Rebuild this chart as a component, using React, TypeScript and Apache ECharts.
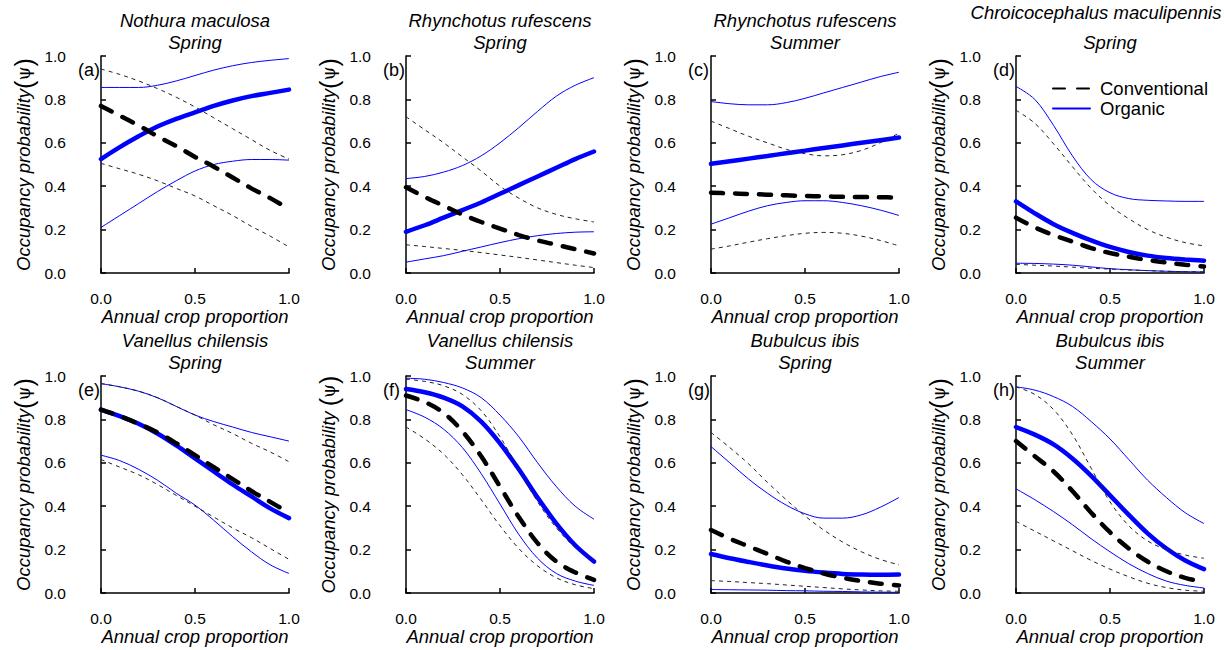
import React, { useEffect, useRef } from "react";
import * as echarts from "echarts";

// x grid (annual crop proportion)
const cropProportion = [0, 0.1, 0.2, 0.3, 0.4, 0.5, 0.6, 0.7, 0.8, 0.9, 1.0];

// (a) Nothura maculosa – Spring
const aConvMean = [0.77, 0.725, 0.68, 0.63, 0.585, 0.535, 0.49, 0.44, 0.39, 0.345, 0.295];
const aConvHi = [0.94, 0.915, 0.885, 0.85, 0.81, 0.765, 0.715, 0.665, 0.615, 0.565, 0.525];
const aConvLo = [0.505, 0.48, 0.455, 0.425, 0.39, 0.355, 0.31, 0.265, 0.215, 0.17, 0.12];
const aOrgMean = [0.525, 0.58, 0.63, 0.675, 0.71, 0.74, 0.77, 0.795, 0.815, 0.83, 0.845];
const aOrgHi = [0.855, 0.855, 0.855, 0.865, 0.885, 0.91, 0.935, 0.955, 0.97, 0.98, 0.988];
const aOrgLo = [0.21, 0.265, 0.32, 0.375, 0.425, 0.47, 0.5, 0.515, 0.523, 0.523, 0.52];

// (b) Rhynchotus rufescens – Spring
const bConvMean = [0.395, 0.35, 0.31, 0.27, 0.235, 0.205, 0.175, 0.15, 0.13, 0.11, 0.09];
const bConvHi = [0.72, 0.66, 0.6, 0.535, 0.47, 0.4, 0.345, 0.3, 0.27, 0.25, 0.235];
const bConvLo = [0.13, 0.122, 0.113, 0.104, 0.094, 0.083, 0.072, 0.06, 0.048, 0.036, 0.025];
const bOrgMean = [0.19, 0.22, 0.255, 0.29, 0.325, 0.365, 0.405, 0.445, 0.485, 0.525, 0.56];
const bOrgHi = [0.435, 0.445, 0.465, 0.495, 0.54, 0.6, 0.67, 0.745, 0.815, 0.865, 0.9];
const bOrgLo = [0.05, 0.065, 0.08, 0.1, 0.12, 0.14, 0.158, 0.172, 0.182, 0.188, 0.19];

// (c) Rhynchotus rufescens – Summer
const cConvMean = [0.37, 0.367, 0.364, 0.361, 0.358, 0.355, 0.353, 0.351, 0.35, 0.349, 0.348];
const cConvHi = [0.7, 0.665, 0.63, 0.6, 0.57, 0.55, 0.54, 0.545, 0.565, 0.6, 0.645];
const cConvLo = [0.11, 0.125, 0.142, 0.158, 0.172, 0.183, 0.187, 0.183, 0.17, 0.15, 0.125];
const cOrgMean = [0.503, 0.515, 0.527, 0.539, 0.552, 0.564, 0.576, 0.588, 0.6, 0.612, 0.624];
const cOrgHi = [0.79, 0.78, 0.775, 0.775, 0.785, 0.805, 0.83, 0.855, 0.88, 0.905, 0.925];
const cOrgLo = [0.225, 0.255, 0.285, 0.31, 0.325, 0.333, 0.333, 0.325, 0.31, 0.29, 0.265];

// (d) Chroicocephalus maculipennis – Spring
const dConvMean = [0.255, 0.21, 0.175, 0.145, 0.115, 0.092, 0.075, 0.06, 0.048, 0.038, 0.03];
const dConvHi = [0.75, 0.69, 0.595, 0.49, 0.39, 0.31, 0.25, 0.2, 0.165, 0.14, 0.125];
const dConvLo = [0.04, 0.036, 0.032, 0.027, 0.022, 0.018, 0.014, 0.011, 0.008, 0.006, 0.005];
const dOrgMean = [0.33, 0.275, 0.225, 0.185, 0.15, 0.12, 0.097, 0.08, 0.069, 0.062, 0.057];
const dOrgHi = [0.86, 0.8, 0.68, 0.54, 0.43, 0.37, 0.343, 0.335, 0.332, 0.33, 0.33];
const dOrgLo = [0.045, 0.044, 0.041, 0.036, 0.028, 0.02, 0.015, 0.011, 0.008, 0.006, 0.005];

// (e) Vanellus chilensis – Spring
const eConvMean = [0.845, 0.815, 0.78, 0.74, 0.69, 0.635, 0.58, 0.525, 0.47, 0.42, 0.37];
const eConvHi = [0.965, 0.95, 0.93, 0.9, 0.86, 0.82, 0.775, 0.735, 0.69, 0.65, 0.605];
const eConvLo = [0.615, 0.58, 0.545, 0.5, 0.45, 0.4, 0.35, 0.3, 0.255, 0.205, 0.155];
const eOrgMean = [0.845, 0.815, 0.78, 0.735, 0.68, 0.62, 0.56, 0.5, 0.445, 0.39, 0.345];
const eOrgHi = [0.965, 0.95, 0.93, 0.9, 0.86, 0.82, 0.79, 0.765, 0.74, 0.72, 0.7];
const eOrgLo = [0.635, 0.61, 0.57, 0.52, 0.46, 0.405, 0.335, 0.26, 0.19, 0.13, 0.09];

// (f) Vanellus chilensis – Summer
const fConvMean = [0.91, 0.88, 0.83, 0.745, 0.63, 0.49, 0.35, 0.23, 0.145, 0.095, 0.06];
const fConvHi = [0.985, 0.975, 0.955, 0.915, 0.84, 0.72, 0.57, 0.42, 0.3, 0.21, 0.15];
const fConvLo = [0.765, 0.71, 0.64, 0.545, 0.43, 0.31, 0.205, 0.125, 0.07, 0.038, 0.02];
const fOrgMean = [0.94, 0.925, 0.9, 0.86, 0.79, 0.69, 0.57, 0.44, 0.32, 0.22, 0.145];
const fOrgHi = [0.99, 0.985, 0.97, 0.945, 0.9, 0.82, 0.72, 0.6, 0.49, 0.4, 0.34];
const fOrgLo = [0.845, 0.81, 0.755, 0.67, 0.55, 0.41, 0.27, 0.16, 0.09, 0.055, 0.035];

// (g) Bubulcus ibis – Spring
const gConvMean = [0.29, 0.25, 0.215, 0.18, 0.145, 0.115, 0.09, 0.07, 0.055, 0.043, 0.035];
const gConvHi = [0.74, 0.67, 0.595, 0.51, 0.43, 0.355, 0.29, 0.235, 0.19, 0.155, 0.13];
const gConvLo = [0.057, 0.053, 0.048, 0.043, 0.037, 0.031, 0.025, 0.019, 0.014, 0.01, 0.008];
const gOrgMean = [0.18, 0.16, 0.143, 0.127, 0.113, 0.102, 0.094, 0.088, 0.085, 0.084, 0.085];
const gOrgHi = [0.675, 0.6, 0.525, 0.46, 0.405, 0.365, 0.345, 0.345, 0.36, 0.395, 0.44];
const gOrgLo = [0.016, 0.015, 0.014, 0.013, 0.011, 0.01, 0.008, 0.007, 0.005, 0.004, 0.003];

// (h) Bubulcus ibis – Summer
const hConvMean = [0.7, 0.63, 0.56, 0.47, 0.37, 0.28, 0.205, 0.145, 0.1, 0.07, 0.05];
const hConvHi = [0.95, 0.915, 0.845, 0.73, 0.575, 0.42, 0.31, 0.24, 0.2, 0.175, 0.16];
const hConvLo = [0.33, 0.285, 0.24, 0.195, 0.15, 0.11, 0.075, 0.045, 0.025, 0.013, 0.008];
const hOrgMean = [0.765, 0.73, 0.685, 0.62, 0.54, 0.45, 0.36, 0.275, 0.205, 0.15, 0.11];
const hOrgHi = [0.95, 0.935, 0.905, 0.86, 0.79, 0.71, 0.615, 0.52, 0.44, 0.37, 0.32];
const hOrgLo = [0.48, 0.43, 0.375, 0.315, 0.25, 0.19, 0.135, 0.09, 0.055, 0.035, 0.023];

const panelLabels = ["(a)", "(b)", "(c)", "(d)", "(e)", "(f)", "(g)", "(h)"];
const speciesNames = [
  "Nothura maculosa",
  "Rhynchotus rufescens",
  "Rhynchotus rufescens",
  "Chroicocephalus maculipennis",
  "Vanellus chilensis",
  "Vanellus chilensis",
  "Bubulcus ibis",
  "Bubulcus ibis",
];
const seasons = ["Spring", "Spring", "Summer", "Spring", "Spring", "Summer", "Spring", "Summer"];
const legendNames = ["Conventional", "Organic"];

const panels = [
  { convMean: aConvMean, convHi: aConvHi, convLo: aConvLo, orgMean: aOrgMean, orgHi: aOrgHi, orgLo: aOrgLo },
  { convMean: bConvMean, convHi: bConvHi, convLo: bConvLo, orgMean: bOrgMean, orgHi: bOrgHi, orgLo: bOrgLo },
  { convMean: cConvMean, convHi: cConvHi, convLo: cConvLo, orgMean: cOrgMean, orgHi: cOrgHi, orgLo: cOrgLo },
  { convMean: dConvMean, convHi: dConvHi, convLo: dConvLo, orgMean: dOrgMean, orgHi: dOrgHi, orgLo: dOrgLo },
  { convMean: eConvMean, convHi: eConvHi, convLo: eConvLo, orgMean: eOrgMean, orgHi: eOrgHi, orgLo: eOrgLo },
  { convMean: fConvMean, convHi: fConvHi, convLo: fConvLo, orgMean: fOrgMean, orgHi: fOrgHi, orgLo: fOrgLo },
  { convMean: gConvMean, convHi: gConvHi, convLo: gConvLo, orgMean: gOrgMean, orgHi: gOrgHi, orgLo: gOrgLo },
  { convMean: hConvMean, convHi: hConvHi, convLo: hConvLo, orgMean: hOrgMean, orgHi: hOrgHi, orgLo: hOrgLo },
];

// layout
const W = 1224;
const H = 650;
const COL_LEFT = [101, 406, 711, 1016];
const ROW_TOP = [56, 376];
const PW = 188;
const PH = 217;
const FONT = "'Liberation Sans', Arial, Helvetica, sans-serif";
const BLUE = "#0000ff";

export default function App() {
  const ref = useRef<HTMLDivElement>(null);

  useEffect(() => {
    if (!ref.current) return;
    const chart = echarts.init(ref.current, undefined, { renderer: "svg" });

    const grids: any[] = [];
    const xAxes: any[] = [];
    const yAxes: any[] = [];
    const series: any[] = [];
    const graphics: any[] = [];

    panels.forEach((p, i) => {
      const col = i % 4;
      const row = Math.floor(i / 4);
      const left = COL_LEFT[col];
      const top = ROW_TOP[row];
      grids.push({ left, top, width: PW, height: PH, containLabel: false });

      xAxes.push({
        type: "value",
        gridIndex: i,
        min: 0,
        max: 1,
        interval: 0.5,
        position: "bottom",
        offset: 7,
        axisLine: { show: true, lineStyle: { color: "#000", width: 1.5 } },
        axisTick: { show: true, inside: true, length: 5, lineStyle: { color: "#000", width: 1.5 } },
        axisLabel: {
          color: "#000",
          fontSize: 15.5,
          fontFamily: FONT,
          margin: 10,
          formatter: (v: number) => v.toFixed(1),
        },
        splitLine: { show: false },
        name: "Annual crop proportion",
        nameLocation: "middle",
        nameGap: 25,
        nameTextStyle: { color: "#000", fontSize: 18.5, fontStyle: "italic", fontFamily: FONT },
      });

      const psiSpace = i === 5 ? " " : "";
      yAxes.push({
        type: "value",
        gridIndex: i,
        min: 0,
        max: 1,
        interval: 0.2,
        position: "left",
        offset: 25,
        axisLine: { show: true, lineStyle: { color: "#000", width: 1.5 } },
        axisTick: { show: true, inside: true, length: 5, lineStyle: { color: "#000", width: 1.5 } },
        axisLabel: {
          color: "#000",
          fontSize: 15.5,
          fontFamily: FONT,
          margin: 10,
          formatter: (v: number) => v.toFixed(1),
        },
        splitLine: { show: false },
        name: `{a|Occupancy probability${psiSpace}}{b|(}{c|ψ}{b|)}`,
        nameLocation: "middle",
        nameGap: 40,
        nameRotate: 90,
        nameTextStyle: {
          color: "#000",
          rich: {
            a: { fontSize: 18.5, fontStyle: "italic", fontFamily: FONT, color: "#000" },
            b: { fontSize: 25, fontFamily: FONT, fontWeight: "lighter", color: "#000" },
            c: { fontSize: 18, fontFamily: "'DejaVu Serif', serif", color: "#000" },
          },
        },
      });

      const mk = (arr: number[]) => cropProportion.map((x, k) => [x, arr[k]]);
      const base = {
        type: "line",
        xAxisIndex: i,
        yAxisIndex: i,
        showSymbol: false,
        symbol: "none",
        smooth: 0.35,
        silent: true,
      };
      series.push({ ...base, name: `org-lo-${i}`, data: mk(p.orgLo), lineStyle: { color: BLUE, width: 1 } });
      series.push({ ...base, name: `org-hi-${i}`, data: mk(p.orgHi), lineStyle: { color: BLUE, width: 1 } });
      series.push({
        ...base,
        name: i === 3 ? legendNames[1] : `org-mean-${i}`,
        data: mk(p.orgMean),
        itemStyle: { color: BLUE },
        lineStyle: { color: BLUE, width: 4.5, cap: "round" },
      });
      series.push({ ...base, name: `conv-lo-${i}`, data: mk(p.convLo), lineStyle: { color: "#222", width: 1, type: [4, 4] } });
      series.push({ ...base, name: `conv-hi-${i}`, data: mk(p.convHi), lineStyle: { color: "#222", width: 1, type: [4, 4] } });
      series.push({
        ...base,
        name: i === 3 ? legendNames[0] : `conv-mean-${i}`,
        data: mk(p.convMean),
        itemStyle: { color: "#000" },
        lineStyle: { color: "#000", width: 4.5, type: [12, 12], cap: "round" },
      });

      const cx = i === 3 ? 1096 : left + PW / 2;
      const speciesY = (i === 3 ? 12 : 20) + row * 320;
      graphics.push({
        type: "text",
        x: cx,
        y: speciesY,
        style: {
          text: speciesNames[i],
          fill: "#000",
          font: `italic 18.5px ${FONT}`,
          align: "center",
          verticalAlign: "middle",
        },
      });
      graphics.push({
        type: "text",
        x: left + PW / 2,
        y: 42 + row * 320,
        style: {
          text: seasons[i],
          fill: "#000",
          font: `italic 18.5px ${FONT}`,
          align: "center",
          verticalAlign: "middle",
        },
      });
      graphics.push({
        type: "text",
        x: left - 23,
        y: top + 14,
        style: {
          text: panelLabels[i],
          fill: "#000",
          font: `18px ${FONT}`,
          align: "left",
          verticalAlign: "middle",
        },
      });
    });

    chart.setOption({
      animation: false,
      backgroundColor: "#fff",
      textStyle: { fontFamily: FONT },
      grid: grids,
      xAxis: xAxes,
      yAxis: yAxes,
      series,
      graphic: graphics,
      legend: {
        data: legendNames,
        orient: "vertical",
        left: 1047,
        top: 74,
        itemWidth: 37,
        itemHeight: 14,
        itemGap: 1,
        selectedMode: false,
        itemStyle: { opacity: 0 },
        textStyle: { fontSize: 18.5, color: "#000", fontFamily: FONT, padding: [0, 0, 0, 5] },
      },
    });

    return () => chart.dispose();
  }, []);

  return (
    <div
      ref={ref}
      style={{ position: "absolute", left: 0, top: 0, width: W, height: H, background: "#fff" }}
    />
  );
}
